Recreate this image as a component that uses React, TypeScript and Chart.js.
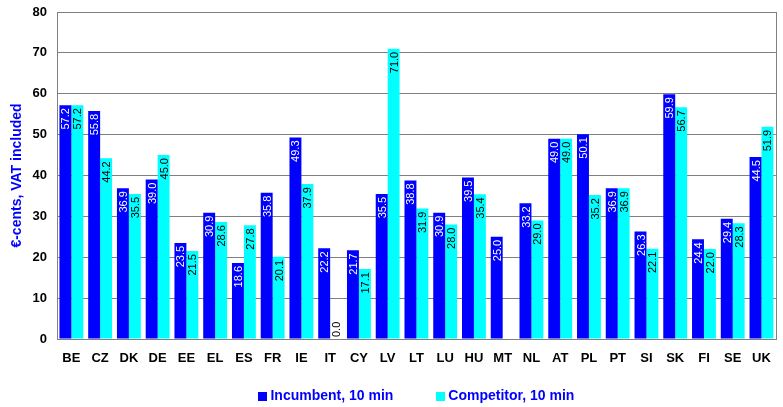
import React, { useEffect, useRef } from "react";
import { Chart, registerables } from "chart.js";

Chart.register(...registerables);

const categories = ["BE","CZ","DK","DE","EE","EL","ES","FR","IE","IT","CY","LV","LT","LU","HU","MT","NL","AT","PL","PT","SI","SK","FI","SE","UK"];
const incumbent = [57.2,55.8,36.9,39.0,23.5,30.9,18.6,35.8,49.3,22.2,21.7,35.5,38.8,30.9,39.5,25.0,33.2,49.0,50.1,36.9,26.3,59.9,24.4,29.4,44.5];
const competitor: (number | null)[] = [57.2,44.2,35.5,45.0,21.5,28.6,27.8,20.1,37.9,0.0,17.1,71.0,31.9,28.0,35.4,null,29.0,49.0,35.2,36.9,22.1,56.7,22.0,28.3,51.9];
const seriesNames = ["Incumbent, 10 min", "Competitor, 10 min"];
const seriesColors = ["#0000FF", "#00FFFF"];
const labelColors = ["#FFFFFF", "#000000"];
const yTitle = "€-cents, VAT included";

const FONT = "'Liberation Sans', Arial, sans-serif";

const labelsPlugin = {
  id: "barLabels",
  afterDatasetsDraw(chart: any) {
    const ctx = chart.ctx;
    ctx.save();
    ctx.font = `11px ${FONT}`;
    chart.data.datasets.forEach((ds: any, di: number) => {
      const meta = chart.getDatasetMeta(di);
      meta.data.forEach((el: any, i: number) => {
        const v = ds.data[i];
        if (v === null || v === undefined) return;
        const txt = v.toFixed(1);
        const w = ctx.measureText(txt).width;
        const h = el.base - el.y;
        ctx.save();
        ctx.fillStyle = labelColors[di];
        ctx.textBaseline = "middle";
        if (h > w + 4) {
          ctx.translate(el.x, el.y + 3);
          ctx.rotate(-Math.PI / 2);
          ctx.textAlign = "right";
        } else {
          ctx.fillStyle = "#000000";
          ctx.translate(el.x, el.y - 2);
          ctx.rotate(-Math.PI / 2);
          ctx.textAlign = "left";
        }
        ctx.fillText(txt, 0, 1);
        ctx.restore();
      });
    });
    ctx.restore();
  },
  afterDraw(chart: any) {
    const ctx = chart.ctx;
    const a = chart.chartArea;
    ctx.save();
    ctx.strokeStyle = "#808080";
    ctx.lineWidth = 1;
    ctx.strokeRect(Math.round(a.left) + 0.5, Math.round(a.top) + 0.5, Math.round(a.right - a.left), Math.round(a.bottom - a.top));
    // legend
    ctx.font = `bold 14px ${FONT}`;
    const boxW = 9, boxH = 9, gapText = 3, gapItems = 43;
    const widths = seriesNames.map((n) => boxW + gapText + ctx.measureText(n).width);
    const total = widths[0] + gapItems + widths[1];
    let x = (a.left + a.right) / 2 - total / 2;
    const yc = 396;
    seriesNames.forEach((n, i) => {
      ctx.fillStyle = seriesColors[i];
      ctx.fillRect(Math.round(x), yc - 4, boxW, boxH);
      ctx.fillStyle = "#0000FF";
      ctx.textBaseline = "middle";
      ctx.textAlign = "left";
      ctx.fillText(n, x + boxW + gapText, yc);
      x += widths[i] + gapItems;
    });
    ctx.restore();
  },
};

export default function App() {
  const ref = useRef<HTMLCanvasElement>(null);
  useEffect(() => {
    document.body.style.margin = "0";
    Chart.defaults.font.family = FONT;
    const chart = new Chart(ref.current!, {
      type: "bar",
      data: {
        labels: categories,
        datasets: [
          { label: seriesNames[0], data: incumbent, backgroundColor: seriesColors[0], categoryPercentage: 0.83, barPercentage: 1 },
          { label: seriesNames[1], data: competitor as any, backgroundColor: seriesColors[1], categoryPercentage: 0.83, barPercentage: 1 },
        ],
      },
      options: {
        responsive: false,
        animation: false,
        layout: { padding: { top: 12, right: 7, bottom: 40, left: 0 } },
        plugins: { legend: { display: false }, tooltip: { enabled: false } },
        scales: {
          x: {
            grid: { display: false, drawTicks: false },
            border: { color: "#808080" },
            ticks: { color: "#000", font: { size: 13, weight: "bold" }, padding: 12, maxRotation: 0, autoSkip: false },
            afterFit: (s: any) => { s.height = 28; },
          },
          y: {
            min: 0,
            max: 80,
            ticks: { stepSize: 10, color: "#000", font: { size: 13, weight: "bold" }, padding: 10 },
            grid: { color: "#808080", drawTicks: false },
            border: { color: "#808080" },
            title: { display: true, text: yTitle, color: "#0000FF", font: { size: 14, weight: "bold" }, padding: { top: 9, bottom: 4 } },
            afterFit: (s: any) => { s.width = 57; s.paddingTop = 0; s.paddingBottom = 0; },
          },
        },
      },
      plugins: [labelsPlugin],
    });
    return () => chart.destroy();
  }, []);
  return (
    <div style={{ width: 783, height: 407 }}>
      <canvas ref={ref} width={783} height={407} />
    </div>
  );
}
